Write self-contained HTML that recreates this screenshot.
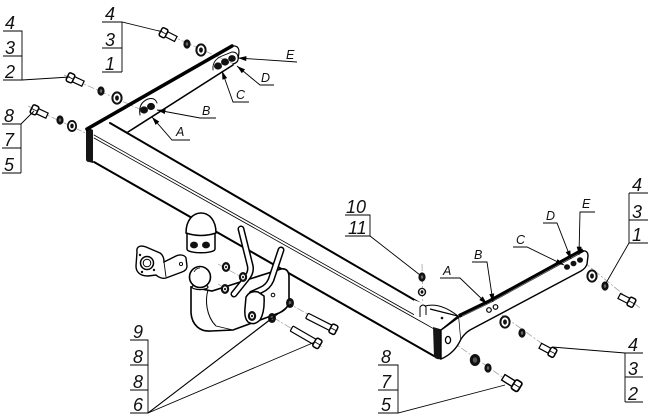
<!DOCTYPE html>
<html><head><meta charset="utf-8"><style>
html,body{margin:0;padding:0;background:#fff;}
svg{display:block;}
text{font-family:"Liberation Sans Narrow","Liberation Sans",sans-serif;font-style:italic;fill:#111;}
.n{font-size:18px;}
.l{font-size:12.5px;}
</style></head><body>
<svg width="650" height="420" viewBox="0 0 650 420" xmlns="http://www.w3.org/2000/svg">
<defs>
<marker id="ar" markerUnits="userSpaceOnUse" viewBox="0 0 10 6" refX="10" refY="3" markerWidth="9" markerHeight="5" orient="auto"><path d="M0,0 L10,3 L0,6 Z" fill="#000"/></marker>
<g id="bolt"><rect x="0" y="-2.8" width="11" height="5.6" fill="#fff" stroke="#000" stroke-width="1.2"/><rect x="-6" y="-4.6" width="6.5" height="9.2" rx="1.8" fill="#fff" stroke="#000" stroke-width="1.5"/><line x1="-6" y1="0" x2="0.5" y2="0" stroke="#000" stroke-width="0.8"/></g>
<g id="lbolt"><rect x="0" y="-2.9" width="27" height="5.8" rx="1" fill="#fff" stroke="#000" stroke-width="1.2"/><rect x="-6" y="-4.8" width="6.5" height="9.6" rx="1.8" fill="#fff" stroke="#000" stroke-width="1.5"/><line x1="-6" y1="0" x2="0.5" y2="0" stroke="#000" stroke-width="0.8"/></g>
<g id="nut"><ellipse rx="3.6" ry="4.6" fill="#111"/><ellipse rx="1.2" ry="1.8" fill="#666"/></g>
<g id="hnut"><ellipse rx="4.2" ry="5" fill="#111"/><ellipse rx="2" ry="2.6" fill="#fff"/><ellipse rx="1" ry="1.3" fill="#111"/></g>
<g id="wsh"><ellipse rx="5.6" ry="6.6" fill="#111"/><ellipse rx="3.6" ry="4.6" fill="#fff"/><ellipse rx="1.9" ry="2.6" fill="#111"/></g>
<g id="dwsh"><ellipse rx="5.2" ry="6" fill="#111"/><ellipse rx="2.2" ry="2.8" fill="#555"/></g>
</defs>

<g stroke="#999" stroke-width="0.7" stroke-dasharray="7 2 2 2" fill="none">
<path d="M158,30 L234,64"/>
<path d="M64,75 L146,112"/>
<path d="M28,106 L92,136"/>
<path d="M422,264 L423,314"/>
<path d="M440,333 L522,391"/>
<path d="M484,302 L558,355"/>
<path d="M574,254 L640,308"/>
<path d="M218,264 L338,331"/>
<path d="M218,284 L322,347"/>
</g>

<g stroke="#000" fill="none" stroke-linecap="round">
<path d="M110,123 L430,309" stroke-width="2"/>
<path d="M94,135 L436,327" stroke-width="0.8"/>
<path d="M94,138 L436,330" stroke-width="0.8"/>
<path d="M94,162 L434,356" stroke-width="2"/>
</g>
<path d="M86,131 Q85,128 89,128 L93,130 L93,163 L89,162 Q86,162 86,159 Z" fill="#151515"/>

<g stroke="#000" fill="none" stroke-linecap="round">
<path d="M87,129 L232,46" stroke-width="3.6"/>
<path d="M232,46 Q239,45 239,52 L238,60 Q237,63 233,64" stroke-width="1.2"/>
<path d="M128,132 L233,65" stroke-width="1.6"/>
<path d="M140,115 Q138,103 148,99 Q155,97 157,103" stroke-width="1"/>
<path d="M213,70 Q212,60 222,56 L232,52 Q238,52 238,58" stroke-width="0.9"/>
</g>
<ellipse cx="144" cy="110" rx="4" ry="3.6" fill="#111"/>
<ellipse cx="151" cy="106.5" rx="4" ry="3.6" fill="#111"/>
<ellipse cx="218" cy="66" rx="4" ry="3.6" fill="#111"/>
<ellipse cx="225" cy="62" rx="4" ry="3.6" fill="#111"/>
<ellipse cx="232" cy="58.5" rx="3.8" ry="3.4" fill="#111"/>

<path d="M414,300 L458,316 L441,330 L433,328 L414,316 Z" fill="#fff" stroke="none"/>
<path d="M430,309 L458,316 L441,330 L434,328" fill="none" stroke="#000" stroke-width="1.2"/>
<path d="M425,306 Q440,302 458,316" fill="none" stroke="#000" stroke-width="1"/>
<circle cx="442" cy="318" r="1.3" fill="#111"/>
<path d="M420,317 L420,307 Q423,303 426,307 L426,315" fill="#fff" stroke="#000" stroke-width="1"/>
<path d="M433,327 L441,330 L441,359 Q437,360 434,357 Z" fill="#151515"/>
<path d="M441,330 L459,317 L461,339 Q455,353 441,359 Z" fill="#fff" stroke="#000" stroke-width="1.4"/>
<ellipse cx="448" cy="340" rx="2.6" ry="3.6" fill="#fff" stroke="#000" stroke-width="1.3"/>
<path d="M459,317 L490,302 L582,251 Q588,250 588,256 L587,264 Q586,268 581,271 L470,330 Q465,333 461,339" fill="#fff" stroke="#000" stroke-width="1.4"/>
<path d="M459,316 L490,301 L583,250" fill="none" stroke="#000" stroke-width="4"/>
<path d="M462,316 L490,302.5 L580,253" fill="none" stroke="#888" stroke-width="0.6"/>
<circle cx="489" cy="310" r="2.3" fill="#fff" stroke="#000" stroke-width="1.2"/>
<circle cx="495.5" cy="307" r="2.3" fill="#fff" stroke="#000" stroke-width="1.2"/>
<ellipse cx="567" cy="267" rx="3" ry="2.8" fill="#111"/>
<ellipse cx="573.5" cy="263.5" rx="3" ry="2.8" fill="#111"/>
<ellipse cx="580" cy="260" rx="3" ry="2.8" fill="#111"/>

<use href="#nut" transform="translate(422,277)"/>
<use href="#wsh" transform="translate(422,292) scale(0.75 0.65)"/>

<path d="M187,233 L187,249 C187,254 215,254 215,249 L215,233 Z" fill="#fff" stroke="#000" stroke-width="1.5"/>
<path d="M186,233 C186,220 193,213 201,213 C209,213 216,220 216,233 Q201,238 186,233 Z" fill="#fff" stroke="#000" stroke-width="1.5"/>
<ellipse cx="194" cy="245" rx="4" ry="3.4" fill="#111"/>
<ellipse cx="206" cy="245" rx="4" ry="3.4" fill="#111"/>

<path d="M137,252 C136,246 141,245 146,247 L160,253 C163,255 164,258 164,262 L176,256 C180,254 185,255 186,258 L187,266 C187,269 185,271 182,272 L166,278 C162,279 158,277 156,275 L148,276 C140,276 136,272 136,266 Z" fill="#fff" stroke="#000" stroke-width="1.4"/>
<circle cx="147" cy="263" r="6.5" fill="#fff" stroke="#000" stroke-width="1.5"/>
<circle cx="147" cy="263" r="3.8" fill="#fff" stroke="#000" stroke-width="1"/>
<circle cx="140" cy="255" r="1.2" fill="#111"/><circle cx="154" cy="270" r="1.2" fill="#111"/><circle cx="142" cy="272" r="1.2" fill="#111"/>
<circle cx="181" cy="264" r="1.6" fill="#fff" stroke="#000" stroke-width="0.9"/>
<path d="M164,262 L166,277" stroke="#000" stroke-width="0.9"/>

<path d="M191,287 L191,313 C192,325 200,332 211,331 L233,330 L279,313 C286,310 289,306 289,300 L289,277 C289,271 286,268 281,269 L212,291 Z" fill="#fff" stroke="#000" stroke-width="1.6"/>
<path d="M208,290 C205,300 206,316 216,326" fill="none" stroke="#000" stroke-width="1"/>
<path d="M216,326 L233,330" fill="none" stroke="#000" stroke-width="0.8"/>
<circle cx="273" cy="295" r="1.8" fill="#fff" stroke="#000" stroke-width="1"/>
<ellipse cx="200" cy="287" rx="8" ry="2.6" fill="#fff" stroke="#000" stroke-width="1.2"/>
<circle cx="200" cy="277" r="10.5" fill="#fff" stroke="#000" stroke-width="1.6"/>
<path d="M194,272 Q196,268 200,268" fill="none" stroke="#000" stroke-width="0.8"/>

<g fill="none" stroke-linecap="round" stroke-linejoin="round">
<path d="M241,229 L250,265 Q252,272 246,279 L234,294" stroke="#000" stroke-width="7"/>
<path d="M241,229 L250,265 Q252,272 246,279 L234,294" stroke="#fff" stroke-width="4"/>
<path d="M281,250 L271,280 Q268,287 261,290 L252,294" stroke="#000" stroke-width="7"/>
<path d="M281,250 L271,280 Q268,287 261,290 L252,294" stroke="#fff" stroke-width="4"/>
</g>
<path d="M246,297 Q250,290 258,292 L264,296 Q265,312 260,320 Q254,326 248,322 Q244,318 245,308 Z" fill="#fff" stroke="#000" stroke-width="1.5"/>

<use href="#hnut" transform="translate(226,267)"/>
<use href="#hnut" transform="translate(225,289)"/>
<use href="#hnut" transform="translate(243,277)"/>
<use href="#hnut" transform="translate(252,316)"/>
<use href="#nut" transform="translate(272,318) scale(1.1)"/>
<use href="#nut" transform="translate(290,303) scale(1.1)"/>
<use href="#lbolt" transform="translate(331,328) rotate(207)"/>
<use href="#lbolt" transform="translate(315,342) rotate(210)"/>

<use href="#bolt" transform="translate(166,34) rotate(27)"/>
<use href="#nut" transform="translate(187,44)"/>
<use href="#wsh" transform="translate(201,50)"/>
<use href="#bolt" transform="translate(73,79) rotate(25)"/>
<use href="#nut" transform="translate(101,91)"/>
<use href="#wsh" transform="translate(117,98)"/>
<use href="#bolt" transform="translate(37,111) rotate(25)"/>
<use href="#nut" transform="translate(60,120)"/>
<use href="#wsh" transform="translate(72,126) scale(0.9)"/>

<use href="#wsh" transform="translate(592,276)"/>
<use href="#nut" transform="translate(605,286)"/>
<use href="#bolt" transform="translate(629,301) rotate(207)"/>
<use href="#wsh" transform="translate(505,322)"/>
<use href="#nut" transform="translate(522,333)"/>
<use href="#bolt" transform="translate(550,351) rotate(208)"/>
<use href="#dwsh" transform="translate(475,360)"/>
<use href="#nut" transform="translate(488,368)"/>
<use href="#bolt" transform="translate(514,384) rotate(212) scale(1.15)"/>

<g stroke="#000" stroke-width="0.9" fill="none">
<path d="M3,31 H22 V80"/><path d="M3,56 H22"/><path d="M3,80 H22 L70,77"/>
<path d="M102,22 H122 L163,32"/><path d="M122,22 V72"/><path d="M102,48 H122"/><path d="M102,72 H122"/>
<path d="M2,124 H21 L34,111"/><path d="M21,124 V173"/><path d="M2,148 H21"/><path d="M2,173 H21"/>
<path d="M345,215 H370 V236"/><path d="M345,236 H370 L420,275"/>
<path d="M629,193 H648"/><path d="M629,193 V243"/><path d="M629,220 H648"/><path d="M629,243 H648"/><path d="M629,243 L606,283"/>
<path d="M625,353 H643"/><path d="M625,353 V402"/><path d="M625,377 H643"/><path d="M625,402 H643"/><path d="M625,353 L552,347"/>
<path d="M378,365 H398 V413"/><path d="M378,390 H398"/><path d="M378,413 H398 L505,385"/>
<path d="M130,340 H148 V413"/><path d="M130,365 H148"/><path d="M130,390 H148"/><path d="M130,413 H148"/>
<path d="M148,413 L272,318"/><path d="M148,413 L291,304"/><path d="M148,413 L315,342"/>
<path d="M297,62 L238,58" marker-end="url(#ar)"/>
<path d="M274,85 H260 L237,66" marker-end="url(#ar)"/>
<path d="M249,102 H233 L222,71" marker-end="url(#ar)"/>
<path d="M216,118 H200 L157,110" marker-end="url(#ar)"/>
<path d="M190,140 H172 L152,117" marker-end="url(#ar)"/>
<path d="M440,278 H460 L487,304" marker-end="url(#ar)"/>
<path d="M472,262 H487 L493,302" marker-end="url(#ar)"/>
<path d="M513,247 H527 L564,265" marker-end="url(#ar)"/>
<path d="M543,223 H557 L571,259" marker-end="url(#ar)"/>
<path d="M595,212 H580 L579,255" marker-end="url(#ar)"/>
</g>

<g>
<text class="n" x="5" y="29">4</text><text class="n" x="5" y="54">3</text><text class="n" x="5" y="78">2</text>
<text class="n" x="105" y="20">4</text><text class="n" x="105" y="46">3</text><text class="n" x="105" y="70">1</text>
<text class="n" x="4" y="122">8</text><text class="n" x="4" y="146">7</text><text class="n" x="4" y="171">5</text>
<text class="n" x="346" y="213">10</text><text class="n" x="348" y="234">11</text>
<text class="n" x="632" y="191">4</text><text class="n" x="632" y="218">3</text><text class="n" x="632" y="241">1</text>
<text class="n" x="628" y="351">4</text><text class="n" x="628" y="375">3</text><text class="n" x="628" y="400">2</text>
<text class="n" x="381" y="363">8</text><text class="n" x="381" y="388">7</text><text class="n" x="381" y="411">5</text>
<text class="n" x="133" y="338">9</text><text class="n" x="133" y="363">8</text><text class="n" x="133" y="388">8</text><text class="n" x="133" y="411">6</text>
</g>
<g>
<text class="l" x="286" y="59">E</text>
<text class="l" x="261" y="82">D</text>
<text class="l" x="236" y="99">C</text>
<text class="l" x="202" y="115">B</text>
<text class="l" x="176" y="136">A</text>
<text class="l" x="443" y="275">A</text>
<text class="l" x="474" y="259">B</text>
<text class="l" x="516" y="244">C</text>
<text class="l" x="546" y="220">D</text>
<text class="l" x="582" y="208">E</text>
</g>
</svg>
</body></html>
